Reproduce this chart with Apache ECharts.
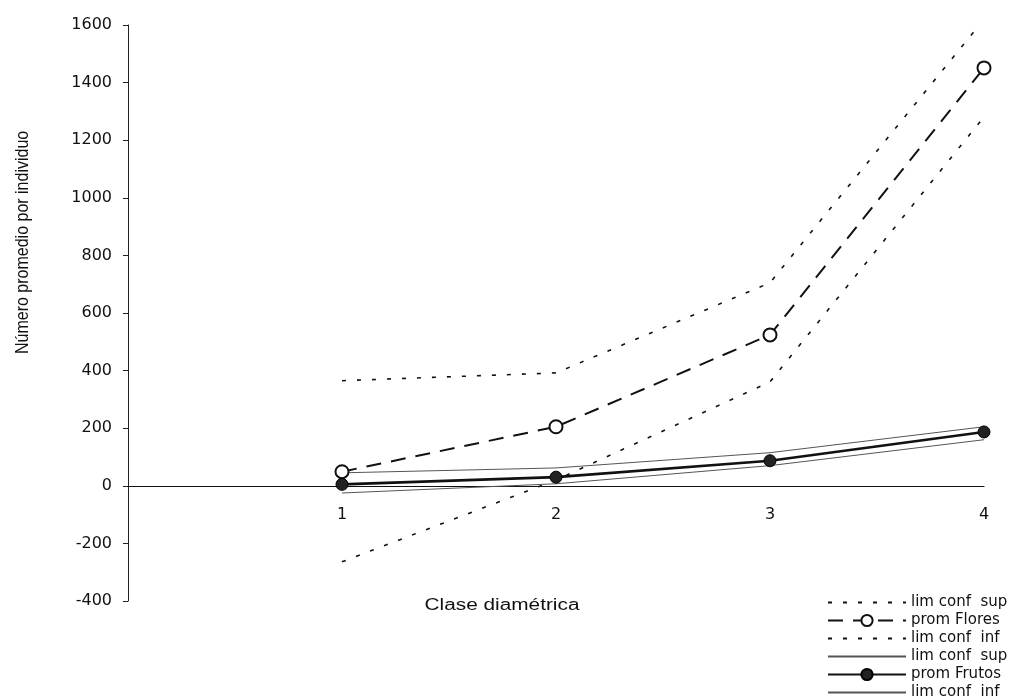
<!DOCTYPE html>
<html>
<head>
<meta charset="utf-8">
<script src="https://cdn.jsdelivr.net/npm/echarts@6/dist/echarts.min.js"></script>
<style>
  html, body { margin: 0; padding: 0; background: #fff; }
  #chart { width: 1030px; height: 698px; }
</style>
</head>
<body>
<div id="chart"></div>
<script>
// Diameter classes on the x axis
const clases = [1, 2, 3, 4];

// Flowers: mean and confidence limits
const floresSup  = [365, 392, 705, 1620];
const floresProm = [49, 205, 524, 1451];
const floresInf  = [-264, 20, 361, 1281];

// Fruits: mean and confidence limits
const frutosSup  = [45, 62, 115, 205];
const frutosProm = [5, 30, 87, 187];
const frutosInf  = [-25, 7, 70, 160];

// Y axis ticks
const yTicks = [-400, -200, 0, 200, 400, 600, 800, 1000, 1200, 1400, 1600];

const pairs = vals => clases.map((c, i) => [c, vals[i]]);
const FONT = '"DejaVu Sans", sans-serif';
const NAME_FONT = '"Liberation Sans", Arial, sans-serif';

const dotted = { color: '#111', width: 1.6, type: [4, 11] };

const series = [
  { name: 'lim conf  sup', type: 'line', data: pairs(floresSup), symbol: 'none',
    lineStyle: dotted, itemStyle: { color: '#111' } },
  { name: 'prom Flores', type: 'line', data: pairs(floresProm),
    symbol: 'emptyCircle', symbolSize: 13,
    lineStyle: { color: '#111', width: 2, type: [15, 10] },
    itemStyle: { color: '#111', borderWidth: 1.6 } },
  { name: 'lim conf  inf', type: 'line', data: pairs(floresInf), symbol: 'none',
    lineStyle: dotted, itemStyle: { color: '#111' } },
  { name: 'lim conf  sup ', type: 'line', data: pairs(frutosSup), symbol: 'none',
    lineStyle: { color: '#555', width: 1 }, itemStyle: { color: '#555' } },
  { name: 'prom Frutos', type: 'line', data: pairs(frutosProm),
    symbol: 'circle', symbolSize: 12,
    lineStyle: { color: '#111', width: 2.6 },
    itemStyle: { color: '#222', borderColor: '#000', borderWidth: 1 } },
  { name: 'lim conf  inf ', type: 'line', data: pairs(frutosInf), symbol: 'none',
    lineStyle: { color: '#555', width: 1 }, itemStyle: { color: '#555' } }
];

// Legend entries: plain limit lines get no marker in their icon
const hidden = { color: 'rgba(0,0,0,0)', borderColor: 'rgba(0,0,0,0)', borderWidth: 0 };
const legendData = series.map(s => (s.symbol === 'none'
  ? { name: s.name, itemStyle: hidden }
  : { name: s.name }));

const chart = echarts.init(document.getElementById('chart'), null, { renderer: 'canvas' });

chart.setOption({
  animation: false,
  backgroundColor: '#fff',
  grid: { left: 128, right: 46, top: 25, bottom: 97, containLabel: false },
  xAxis: {
    type: 'value', min: 0, max: 4, interval: 1,
    axisLine: { onZero: true, lineStyle: { color: '#111', width: 1.2 } },
    axisTick: { show: false },
    splitLine: { show: false },
    axisLabel: {
      margin: -94, color: '#111', fontSize: 16, fontFamily: FONT,
      formatter: v => (clases.indexOf(v) >= 0 ? String(v) : '')
    }
  },
  yAxis: {
    type: 'value', min: yTicks[0], max: yTicks[yTicks.length - 1], interval: 200,
    axisLine: { show: true, onZero: false, lineStyle: { color: '#222', width: 1 } },
    axisTick: { show: true, length: 5, lineStyle: { color: '#222' } },
    splitLine: { show: false },
    axisLabel: { margin: 16, color: '#111', fontSize: 16, fontFamily: FONT,
      formatter: v => String(v) }
  },
  legend: {
    orient: 'vertical', left: 827, top: 595, height: 115, padding: 0,
    itemWidth: 78, itemHeight: 14, itemGap: 3,
    textStyle: { color: '#111', fontSize: 15, fontFamily: FONT },
    data: legendData,
    selectedMode: false
  },
  graphic: [
    { type: 'text', x: 13, y: 354, rotation: Math.PI / 2, scaleY: 1.2,
      style: { text: 'Número promedio por individuo', fill: '#111', font: '16px ' + NAME_FONT,
        textVerticalAlign: 'top' } },
    { type: 'text', x: 502, y: 606, scaleX: 1.3,
      style: { text: 'Clase diamétrica', fill: '#111', font: '16px ' + NAME_FONT,
        textAlign: 'center', textVerticalAlign: 'middle' } }
  ],
  series: series
});
</script>
</body>
</html>
